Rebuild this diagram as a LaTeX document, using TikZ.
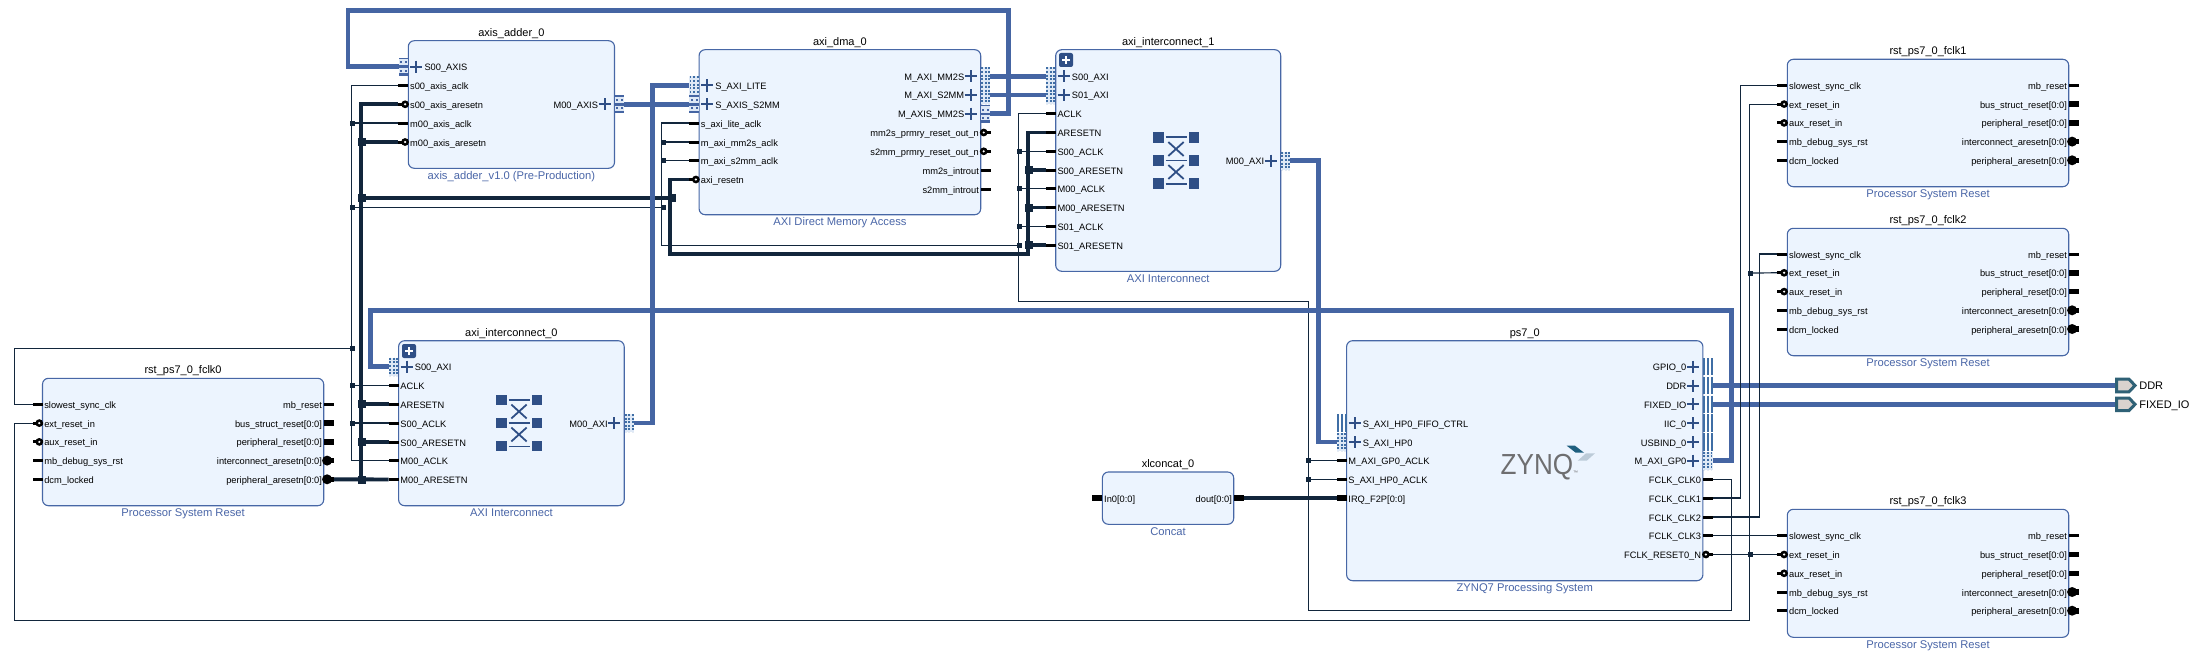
\documentclass[tikz,border=0pt]{standalone}
\usepackage{fontspec}
\setmainfont{Liberation Sans}
\catcode`\_=12
\definecolor{busc}{HTML}{4565A3}
\definecolor{netc}{HTML}{12263C}
\definecolor{edgec}{HTML}{4767A6}
\definecolor{fillc}{HTML}{ECF4FE}
\definecolor{iconc}{HTML}{2F4F86}
\definecolor{hatchc}{HTML}{3F6EA5}
\definecolor{paleh}{HTML}{DFE9F6}
\definecolor{subc}{HTML}{4A66A8}
\definecolor{portedge}{HTML}{2F6176}
\definecolor{portfill}{HTML}{D9D2CE}
\definecolor{zyngray}{HTML}{6E6E70}
\definecolor{zyndark}{HTML}{1F5F7F}
\definecolor{zynlight}{HTML}{BCCBD8}
\pgfdeclarelayer{bg}
\pgfdeclarelayer{wires}
\pgfsetlayers{bg,wires,main}
\tikzset{
  blockn/.style={draw=edgec,fill=fillc,line width=1.1pt,rounded corners=6pt,inner sep=0pt,outer sep=0pt},
  lbl/.style={inner sep=0pt,outer sep=0pt,font=\fontsize{9.3}{11}\selectfont,text=black},
  ttl/.style={inner sep=0pt,outer sep=0pt,font=\fontsize{11}{13}\selectfont,text=black,anchor=base},
  subt/.style={inner sep=0pt,outer sep=0pt,font=\fontsize{11.2}{13}\selectfont,text=subc,anchor=base},
  wthin/.style={draw=netc,line width=1.2pt},
  wthick/.style={draw=netc,line width=3.9pt},
  wbus/.style={draw=busc,line width=4.8pt},
  jthin/.style={fill=netc,minimum size=5pt,inner sep=0pt,outer sep=0pt},
  jthick/.style={fill=netc,minimum size=8pt,inner sep=0pt,outer sep=0pt},
  plusbtn/.style={fill=iconc,rounded corners=2pt,minimum size=14pt,inner sep=0pt},
  gl/.style={draw=iconc,line width=2pt},
  extport/.style={draw=portedge,fill=portfill,line width=3pt,line join=miter}
}
% block: name, left, top, right, bottom, title, subtitle
\newcommand\blk[7]{%
  \pgfmathsetmacro\bw{#4-#2}\pgfmathsetmacro\bh{#5-#3}\pgfmathsetmacro\bc{(#2+#4)/2}%
  \def\cL{#2}\def\cR{#4}%
  \node[blockn,minimum width=\bw pt,minimum height=\bh pt,anchor=north west] (#1) at (#2,#3) {};
  \node[ttl] (#1-title) at (\bc,{#3-4.6}) {#6};
  \node[subt] (#1-sub) at (\bc,{#5+11}) {#7};
}
% plain pins
\newcommand\pL[3]{%
  \coordinate (#1) at ({\cL-10},#2);
  \node[lbl,anchor=base west] (#1-t) at ({\cL+1.8},{#2+4}) {#3};
  \fill[black] ({\cL-10},{#2-1.5}) rectangle (\cL,{#2+1.5});}
\newcommand\pR[3]{%
  \coordinate (#1) at ({\cR+10},#2);
  \node[lbl,anchor=base east] (#1-t) at ({\cR-1.8},{#2+4}) {#3};
  \fill[black] (\cR,{#2-1.5}) rectangle ({\cR+10},{#2+1.5});}
% vector pins
\newcommand\pLv[3]{%
  \coordinate (#1) at ({\cL-10},#2);
  \node[lbl,anchor=base west] (#1-t) at ({\cL+1.8},{#2+4}) {#3};
  \fill[black] ({\cL-10},{#2-2.8}) rectangle (\cL,{#2+2.8});}
\newcommand\pRv[3]{%
  \coordinate (#1) at ({\cR+10},#2);
  \node[lbl,anchor=base east] (#1-t) at ({\cR-1.8},{#2+4}) {#3};
  \fill[black] (\cR,{#2-2.8}) rectangle ({\cR+10},{#2+2.8});}
% active-low pins
\newcommand\pLr[3]{%
  \pL{#1}{#2}{#3}%
  \fill[black] ({\cL-3.2},#2) circle (3.9pt);
  \fill[white] ({\cL-3.2},#2) circle (1.2pt);}
\newcommand\pRr[3]{%
  \pR{#1}{#2}{#3}%
  \fill[black] ({\cR+3},#2) circle (3.9pt);
  \fill[white] ({\cR+3},#2) circle (1.2pt);}
\newcommand\pRvr[3]{%
  \pRv{#1}{#2}{#3}%
  \fill[black] ({\cR+3.4},#2) circle (5pt);}
% connector glyph at centre x,y
\newcommand\hatchdot[2]{%
  \fill[paleh] ({#1-4.7},{#2-9.2}) rectangle ({#1+4.7},{#2+9.2});
  \foreach \dx in {-3.6,0,3.6}{\draw[hatchc,line width=1.9pt,dash pattern=on 2pt off 1.6pt] ({#1+\dx},{#2-9}) -- ({#1+\dx},{#2+9});}}
\newcommand\hatchsolid[2]{%
  \foreach \dx in {-4,0,4}{\draw[hatchc,line width=2pt] ({#1+\dx},{#2-8.7}) -- ({#1+\dx},{#2+8.7});}}
\newcommand\hatchaxis[2]{%
  \fill[paleh] ({#1-4.7},{#2-9}) rectangle ({#1+4.7},{#2+9});
  \fill[busc] ({#1-4.7},{#2-9}) rectangle ({#1+4.7},{#2-7.4});
  \fill[busc] ({#1-4.7},{#2+6.6}) rectangle ({#1+4.7},{#2+9});
  \fill[busc] ({#1-4.7},{#2-1.2}) rectangle ({#1+4.7},{#2+1.2});
  \foreach \dx in {-2.5,2.5}{\foreach \dy in {-4.2,4}{\fill[busc] ({#1+\dx-1},{#2+\dy-1}) rectangle ({#1+\dx+1},{#2+\dy+1});}}}
\newcommand\plusg[2]{%
  \draw[gl] ({#1-6},#2) -- ({#1+6},#2);
  \draw[gl] (#1,{#2-6}) -- (#1,{#2+6});}
% bus pins: id, y, label, glyph macro
\newcommand\pLb[4]{%
  \coordinate (#1) at ({\cL-9.5},#2);
  \pgfmathsetmacro\hx{\cL-5}\pgfmathsetmacro\px{\cL+8}%
  #4{\hx}{#2}\plusg{\px}{#2}%
  \node[lbl,anchor=base west] (#1-t) at ({\cL+16.2},{#2+4}) {#3};}
\newcommand\pRb[4]{%
  \coordinate (#1) at ({\cR+9.5},#2);
  \pgfmathsetmacro\hx{\cR+5}\pgfmathsetmacro\px{\cR-10}%
  #4{\hx}{#2}\plusg{\px}{#2}%
  \node[lbl,anchor=base east] (#1-t) at ({\cR-16.5},{#2+4}) {#3};}
% interconnect icon
\newcommand\xbar[3]{%
  \begin{scope}[shift={(#2,#3)}]
    \foreach \sx in {-17.8,17.8}{\foreach \sy in {-23,0,23}{\fill[iconc] ({\sx-5.3},{\sy-5.3}) rectangle ({\sx+5.3},{\sy+5.3});}}
    \foreach \sy in {-23.4,0,23.4}{\draw[iconc,line width=1.8pt] (-10.5,\sy) -- (10.5,\sy);}
    \draw[iconc,line width=1.8pt] (-7.7,-18.5) -- (7.7,-4.5) (7.7,-18.5) -- (-7.7,-4.5);
    \draw[iconc,line width=1.8pt] (-7.7,4.5) -- (7.7,18.5) (7.7,4.5) -- (-7.7,18.5);
  \end{scope}}
\newcommand\rstpins[2]{%
  \pL{#1-slow}{#2}{slowest_sync_clk}
  \pLr{#1-ext}{#2+18.8}{ext_reset_in}
  \pLr{#1-aux}{#2+37.6}{aux_reset_in}
  \pL{#1-dbg}{#2+56.3}{mb_debug_sys_rst}
  \pL{#1-dcm}{#2+75}{dcm_locked}
  \pR{#1-mbr}{#2}{mb_reset}
  \pRv{#1-bus}{#2+18.8}{bus_struct_reset[0:0]}
  \pRv{#1-prr}{#2+37.6}{peripheral_reset[0:0]}
  \pRvr{#1-ica}{#2+56.3}{interconnect_aresetn[0:0]}
  \pRvr{#1-per}{#2+75}{peripheral_aresetn[0:0]}}
\begin{document}
\begin{tikzpicture}[x=1pt,y=-1pt]
\useasboundingbox (0,0) rectangle (2201,669);
\begin{pgfonlayer}{bg}
\fill[white] (0,0) rectangle (2201,669);
\end{pgfonlayer}

% ---------- blocks and pins ----------
\blk{rst0}{42.5}{378.3}{323.7}{505.7}{rst_ps7_0_fclk0}{Processor System Reset}
\rstpins{rst0}{404.3}

\blk{ic0}{398.6}{340.7}{624.2}{505.7}{axi_interconnect_0}{AXI Interconnect}
\node[plusbtn] (ic0-btn) at (409,351) {};
\draw[white,line width=2pt] (405,351) -- (413,351) (409,347) -- (409,355);
\pLb{ic0-s}{366.7}{S00_AXI}{\hatchdot}
\pL{ic0-aclk}{385.5}{ACLK}
\pL{ic0-arst}{404.3}{ARESETN}
\pL{ic0-saclk}{423}{S00_ACLK}
\pL{ic0-srst}{442}{S00_ARESETN}
\pL{ic0-maclk}{460.7}{M00_ACLK}
\pL{ic0-mrst}{479.5}{M00_ARESETN}
\pRb{ic0-m}{423}{M00_AXI}{\hatchdot}
\xbar{ic0-x}{519}{423}

\blk{ad}{408.3}{40.7}{614.5}{168.3}{axis_adder_0}{axis_adder_v1.0 (Pre-Production)}
\pLb{ad-s}{66.7}{S00_AXIS}{\hatchaxis}
\pL{ad-saclk}{85.5}{s00_axis_aclk}
\pLr{ad-srst}{104.3}{s00_axis_aresetn}
\pL{ad-maclk}{123}{m00_axis_aclk}
\pLr{ad-mrst}{142}{m00_axis_aresetn}
\pRb{ad-m}{104.3}{M00_AXIS}{\hatchaxis}

\blk{dma}{699.1}{49.7}{980.7}{214.7}{axi_dma_0}{AXI Direct Memory Access}
\pLb{dma-lite}{85.5}{S_AXI_LITE}{\hatchdot}
\pLb{dma-s2}{104.3}{S_AXIS_S2MM}{\hatchaxis}
\pL{dma-lclk}{123}{s_axi_lite_aclk}
\pL{dma-mclk}{142}{m_axi_mm2s_aclk}
\pL{dma-sclk}{160.7}{m_axi_s2mm_aclk}
\pLr{dma-rst}{179.5}{axi_resetn}
\pRb{dma-mm}{76.5}{M_AXI_MM2S}{\hatchdot}
\pRb{dma-sm}{95}{M_AXI_S2MM}{\hatchdot}
\pRb{dma-ms}{113.7}{M_AXIS_MM2S}{\hatchaxis}
\pRr{dma-r1}{132.5}{mm2s_prmry_reset_out_n}
\pRr{dma-r2}{151.3}{s2mm_prmry_reset_out_n}
\pR{dma-i1}{170}{mm2s_introut}
\pR{dma-i2}{189}{s2mm_introut}

\blk{ic1}{1055.7}{49.7}{1280.7}{271.3}{axi_interconnect_1}{AXI Interconnect}
\node[plusbtn] (ic1-btn) at (1066,60) {};
\draw[white,line width=2pt] (1062,60) -- (1070,60) (1066,56) -- (1066,64);
\pLb{ic1-s0}{76.5}{S00_AXI}{\hatchdot}
\pLb{ic1-s1}{95}{S01_AXI}{\hatchdot}
\pL{ic1-aclk}{113.7}{ACLK}
\pL{ic1-arst}{132.5}{ARESETN}
\pL{ic1-s0clk}{151.3}{S00_ACLK}
\pL{ic1-s0rst}{170}{S00_ARESETN}
\pL{ic1-mclk}{188.7}{M00_ACLK}
\pL{ic1-mrst}{207.5}{M00_ARESETN}
\pL{ic1-s1clk}{226.3}{S01_ACLK}
\pL{ic1-s1rst}{245}{S01_ARESETN}
\pRb{ic1-m}{160.7}{M00_AXI}{\hatchdot}
\xbar{ic1-x}{1176}{160.5}

\blk{cc}{1102.4}{472}{1233.7}{524.3}{xlconcat_0}{Concat}
\pLv{cc-in}{498}{In0[0:0]}
\pRv{cc-out}{498}{dout[0:0]}

\blk{ps}{1346.6}{340.7}{1702.9}{580.7}{ps7_0}{ZYNQ7 Processing System}
\pLb{ps-fifo}{423}{S_AXI_HP0_FIFO_CTRL}{\hatchsolid}
\pLb{ps-hp}{442}{S_AXI_HP0}{\hatchdot}
\pL{ps-gpclk}{460.7}{M_AXI_GP0_ACLK}
\pL{ps-hpclk}{479.5}{S_AXI_HP0_ACLK}
\pLv{ps-irq}{498}{IRQ_F2P[0:0]}
\pRb{ps-gpio}{366.7}{GPIO_0}{\hatchsolid}
\pRb{ps-ddr}{385.5}{DDR}{\hatchsolid}
\pRb{ps-fix}{404.3}{FIXED_IO}{\hatchsolid}
\pRb{ps-iic}{423}{IIC_0}{\hatchsolid}
\pRb{ps-usb}{442}{USBIND_0}{\hatchsolid}
\pRb{ps-gp}{460.7}{M_AXI_GP0}{\hatchdot}
\pR{ps-clk0}{479.5}{FCLK_CLK0}
\pR{ps-clk1}{498}{FCLK_CLK1}
\pR{ps-clk2}{517}{FCLK_CLK2}
\pR{ps-clk3}{535.7}{FCLK_CLK3}
\pRr{ps-rst}{554.5}{FCLK_RESET0_N}
\node[inner sep=0pt,anchor=base west,text=zyngray,font=\fontsize{29}{30}\selectfont] (zynq) at (1500.5,474) {\scalebox{0.9}[1]{ZYNQ}};
\node[inner sep=0pt,anchor=base west,text=zyngray,font=\fontsize{5}{6}\selectfont] (zynq-tm) at (1573,474.5) {™};
\fill[zyndark] (1566.7,445.7) -- (1575,445.7) -- (1584,452.7) -- (1575.7,452.7) -- cycle;
\fill[zynlight] (1586,453.3) -- (1595,453.3) -- (1586.7,460.7) -- (1577.7,460.7) -- cycle;

\blk{f1}{1787.3}{59.3}{2068.7}{186.7}{rst_ps7_0_fclk1}{Processor System Reset}
\rstpins{f1}{85.3}
\blk{f2}{1787.3}{228.3}{2068.7}{355.7}{rst_ps7_0_fclk2}{Processor System Reset}
\rstpins{f2}{254}
\blk{f3}{1787.3}{509.3}{2068.7}{637.3}{rst_ps7_0_fclk3}{Processor System Reset}
\rstpins{f3}{535.7}

% external ports
\coordinate (ddr-p) at (2116,385.5);
\coordinate (fix-p) at (2116,404.3);
\draw[extport] (2116.5,379.2) -- (2129,379.2) -- (2135,385.5) -- (2129,391.8) -- (2116.5,391.8) -- cycle;
\draw[extport] (2116.5,398) -- (2129,398) -- (2135,404.3) -- (2129,410.6) -- (2116.5,410.6) -- cycle;
\node[ttl,anchor=base west] (ddr-t) at (2139.3,389.7) {DDR};
\node[ttl,anchor=base west] (fix-t) at (2139.3,408.5) {FIXED_IO};

% ---------- junctions ----------
\foreach \n/\px/\py in {a1/352.7/123, a2/352.7/207.3, a3/352.7/348.5, a4/352.7/385.5, a5/352.7/423,
  a6/663/142, a7/663/160.7, a8/663/207.3,
  b1/1019.6/151.3, b2/1019.6/188.7, b3/1019.6/226.3, b4/1019.6/245.3,
  d1/1308.7/460.7, d2/1308.7/479.5,
  r1/1750/273, r2/1750/554.5}
  {\node[jthin] (\n) at (\px,\py) {};}
\foreach \n/\px/\py in {t1/362.4/142, t2/362.4/197.7, t3/362/404.3, t4/362/442, t5/362/479.5,
  t6/671.8/197.7, u1/1028.5/170, u2/1028.5/207.5, u3/1028.5/245}
  {\node[jthick] (\n) at (\px,\py) {};}

% ---------- bend points ----------
\coordinate (ka) at (351.4,300);
\coordinate (kb) at (14.3,380);
\coordinate (kc) at (661.7,180);
\coordinate (kd) at (1731.4,610.3);
\coordinate (ke) at (1308.7,610.3);
\coordinate (kf) at (1308.7,301.3);
\coordinate (kg) at (1018.3,301.3);
\coordinate (ma) at (360.7,479.5);
\coordinate (mb) at (670,253.7);
\coordinate (mc) at (1027.7,253.7);
\coordinate (na) at (1008.7,10.3);
\coordinate (nb) at (348,10.3);
\coordinate (nc) at (652.4,300);
\coordinate (nd) at (1731.4,310.3);
\coordinate (ne) at (370.8,310.3);
\coordinate (nf) at (1318.3,300);
\coordinate (pa) at (1749.3,620.3);
\coordinate (pb) at (14.3,620.3);
\coordinate (pc) at (1740.3,300);
\coordinate (pd) at (1759.3,400);

% ---------- connectors ----------
\begin{pgfonlayer}{wires}
% reset net
\draw[wthick] (ad-srst) -| (ma);
\draw[wthick] (t1.center) -- (ad-mrst);
\draw[wthick] (t3.center) -- (ic0-arst);
\draw[wthick] (t4.center) -- (ic0-srst);
\draw[wthick] (rst0-per) -- (ic0-mrst);
\draw[wthick] (t2.center) -- (t6.center);
\draw[wthick] (dma-rst) -| (mb) -- (mc) |- (ic1-arst);
\draw[wthick] (u1.center) -- (ic1-s0rst);
\draw[wthick] (u2.center) -- (ic1-mrst);
\draw[wthick] (u3.center) -- (ic1-s1rst);
\draw[wthick] (cc-out) -- (ps-irq);
% clock net
\draw[wthin] (ps-clk0) -| (kd) -- (ke) -- (kf) -- (kg) |- (ic1-aclk);
\draw[wthin] (d1.center) -- (ps-gpclk);
\draw[wthin] (d2.center) -- (ps-hpclk);
\draw[wthin] (b1.center) -- (ic1-s0clk);
\draw[wthin] (b2.center) -- (ic1-mclk);
\draw[wthin] (b3.center) -- (ic1-s1clk);
\draw[wthin] (b4.center) -| (kc) |- (dma-lclk);
\draw[wthin] (a6.center) -- (dma-mclk);
\draw[wthin] (a7.center) -- (dma-sclk);
\draw[wthin] (a8.center) -- (a2.center);
\draw[wthin] (ad-saclk) -| (ka) |- (ic0-maclk);
\draw[wthin] (a1.center) -- (ad-maclk);
\draw[wthin] (a4.center) -- (ic0-aclk);
\draw[wthin] (a5.center) -- (ic0-saclk);
\draw[wthin] (a3.center) -| (kb) |- (rst0-slow);
% buses
\draw[wbus] (dma-ms) -| (na) -- (nb) |- (ad-s);
\draw[wbus] (dma-mm) -- (ic1-s0);
\draw[wbus] (dma-sm) -- (ic1-s1);
\draw[wbus] (ad-m) -- (dma-s2);
\draw[wbus] (ic0-m) -| (nc) |- (dma-lite);
\draw[wbus] (ps-gp) -| (nd) -- (ne) |- (ic0-s);
\draw[wbus] (ic1-m) -| (nf) |- (ps-hp);
\draw[wbus] (ps-ddr) -- (ddr-p);
\draw[wbus] (ps-fix) -- (fix-p);
% clocks and resets to the right-hand blocks
\draw[wthin] (ps-clk1) -| (pc) |- (f1-slow);
\draw[wthin] (ps-clk2) -| (pd) |- (f2-slow);
\draw[wthin] (ps-clk3) -- (f3-slow);
\draw[wthin] (ps-rst) -- (f3-ext);
\draw[wthin] (f1-ext) -| (pa) -- (pb) |- (rst0-ext);
\draw[wthin] (r1.center) -- (f2-ext);
\end{pgfonlayer}
\end{tikzpicture}
\end{document}
